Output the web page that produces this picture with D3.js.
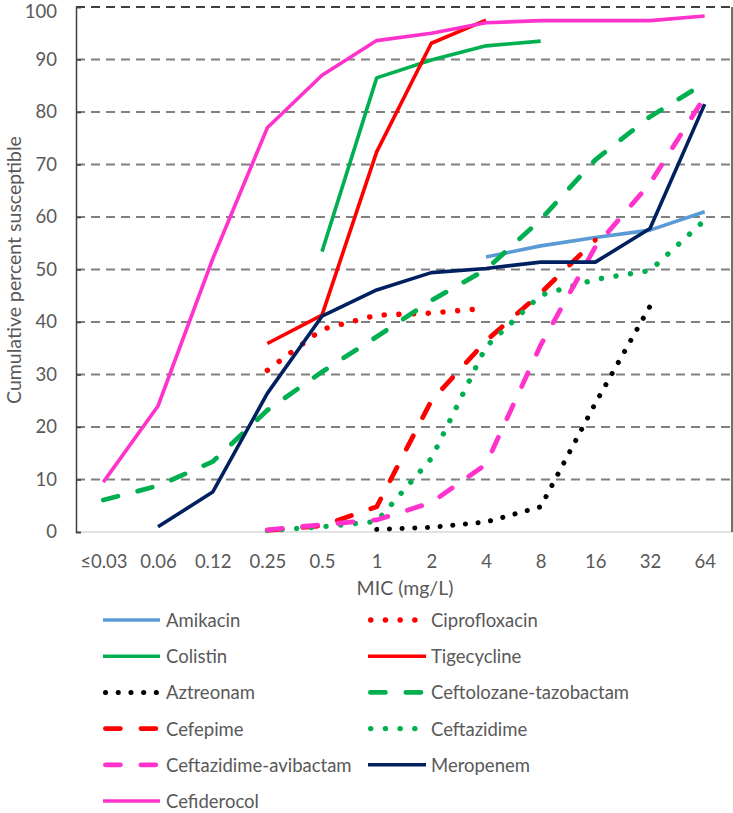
<!DOCTYPE html>
<html><head><meta charset="utf-8">
<script src="https://cdn.jsdelivr.net/npm/d3@7/dist/d3.min.js"></script>
<style>
body{margin:0;background:#fff}
text{font-family:Lato,"Open Sans",sans-serif;fill:#595959}
</style>
</head><body>
<svg id="chart" width="733" height="813"></svg>
<script>
const categories = ["≤0.03","0.06","0.12","0.25","0.5","1","2","4","8","16","32","64"];
const yTicks = [0,10,20,30,40,50,60,70,80,90,100];

const amikacin      = [null,null,null,null,null,null,null,52.4,54.5,56.1,57.5,61.0];
const ciprofloxacin = [null,null,null,30.8,38.6,41.3,41.7,42.6,null,null,null,null];
const colistin      = [null,null,null,null,53.4,86.5,89.9,92.6,93.5,null,null,null];
const tigecycline   = [null,null,null,35.9,41.3,72.4,93.1,97.5,null,null,null,null];
const aztreonam     = [null,null,null,null,null,0.5,0.9,1.9,4.8,24.5,43.0,null];
const ceftolozane   = [6.1,8.8,13.4,23.2,30.5,37.2,44.1,50.0,59.5,70.9,79.1,85.5];
const cefepime      = [null,null,null,0.3,1.2,4.8,25.0,36.4,45.5,55.6,null,null];
const ceftazidime   = [null,null,null,0.3,1.0,2.0,14.0,35.3,45.1,48.1,49.8,59.4];
const cazAvi        = [null,null,null,0.4,1.4,2.3,5.6,12.9,35.6,54.3,66.4,82.9];
const meropenem     = [null,1.0,7.6,26.4,41.1,46.1,49.4,50.2,51.4,51.4,57.8,81.5];
const cefiderocol   = [9.5,24.0,52.0,77.0,87.0,93.6,95.0,97.0,97.4,97.4,97.4,98.3];

const seriesNames = ["Amikacin","Ciprofloxacin","Colistin","Tigecycline","Aztreonam",
  "Ceftolozane-tazobactam","Cefepime","Ceftazidime","Ceftazidime-avibactam","Meropenem","Cefiderocol"];
const seriesValues = [amikacin,ciprofloxacin,colistin,tigecycline,aztreonam,
  ceftolozane,cefepime,ceftazidime,cazAvi,meropenem,cefiderocol];
const seriesColors = ["#5B9BD5","#FF0000","#00B050","#FF0000","#000000",
  "#00B050","#FF0000","#00B050","#FF33CC","#002060","#FF33CC"];
const seriesStyles = ["solid","dot","solid","solid","dotS","dash","dash","dot","dash","solid","solid"];

const svg = d3.select("#chart");
const L = 76, R = 732, T = 7, B = 532;
const FONT = "Lato, 'Open Sans', sans-serif";

const x = d3.scalePoint().domain(categories).range([L, R]).padding(0.5);
const y = d3.scaleLinear().domain([0,100]).range([B, T]);

const styleAttrs = {
  solid: {w:3.6, dash:null, cap:"butt"},
  dot:   {w:5.4, dash:"0.1 14.6", cap:"round"},
  dotS:  {w:5.0, dash:"0.1 12.6", cap:"round"},
  dash:  {w:4.8, dash:"15 20.5", cap:"round"}
};

// gridlines
svg.append("g").selectAll("line").data(yTicks.filter(t => t > 0 && t < 100)).join("line")
  .attr("x1", L).attr("x2", R).attr("y1", d => y(d)).attr("y2", d => y(d))
  .attr("stroke", "#808080").attr("stroke-width", 1.8).attr("stroke-dasharray", "9 6");
// top border (dashed dark)
svg.append("line").attr("x1", L).attr("x2", R).attr("y1", y(100)).attr("y2", y(100))
  .attr("stroke", "#404040").attr("stroke-width", 1.8).attr("stroke-dasharray", "9 6");
// bottom axis line
svg.append("line").attr("x1", L).attr("x2", R).attr("y1", B).attr("y2", B)
  .attr("stroke", "#d9d9d9").attr("stroke-width", 1.5);
// right border
svg.append("line").attr("x1", R).attr("x2", R).attr("y1", T).attr("y2", B)
  .attr("stroke", "#404040").attr("stroke-width", 1.5);

// y axis
const yAxis = d3.axisLeft(y).tickValues(yTicks).tickSize(-5).tickPadding(19);
const gy = svg.append("g").attr("transform", `translate(${L},0)`).call(yAxis);
gy.select(".domain").attr("stroke", "#404040").attr("stroke-width", 1.5);
gy.selectAll(".tick line").attr("stroke", "#404040").attr("stroke-width", 1.5);
gy.selectAll(".tick text").attr("font-size", 18.5).attr("fill", "#595959")
  .style("font-family", FONT)
  .attr("dy", d => d === 100 ? "0.55em" : "0.32em");

// x axis labels
const xAxis = d3.axisBottom(x).tickSize(0).tickPadding(23);
const gx = svg.append("g").attr("transform", `translate(0,${B})`).call(xAxis);
gx.select(".domain").remove();
gx.selectAll(".tick text").attr("font-size", 18.5).attr("fill", "#595959")
  .style("font-family", FONT);

// axis titles
svg.append("text").attr("x", 405).attr("y", 587).attr("text-anchor", "middle")
  .attr("dominant-baseline", "central").attr("font-size", 19.5).text("MIC (mg/L)");
svg.append("text").attr("transform", "translate(13,270) rotate(-90)").attr("text-anchor", "middle")
  .attr("dominant-baseline", "central").attr("font-size", 19.5).text("Cumulative percent susceptible");

// series lines
const line = d3.line().defined(d => d.v !== null).x(d => x(d.c)).y(d => y(d.v));
seriesNames.forEach((name, i) => {
  const st = styleAttrs[seriesStyles[i]];
  const data = categories.map((c, j) => ({c, v: seriesValues[i][j]}));
  svg.append("path").datum(data).attr("d", line)
    .attr("fill", "none").attr("stroke", seriesColors[i]).attr("stroke-width", st.w)
    .attr("stroke-linecap", st.cap).attr("stroke-linejoin", "round")
    .attr("stroke-dasharray", st.dash);
});

// legend
const legRowY = [620, 656.2, 692.4, 728.6, 764.8, 801];
const legColX = [[103,160,166],[368,426,431]];
seriesNames.forEach((name, i) => {
  const row = Math.floor(i / 2), col = i % 2;
  const st = styleAttrs[seriesStyles[i]];
  const cx = legColX[col], yy = legRowY[row];
  let x1 = cx[0], x2 = cx[1];
  if (st.cap === "round") { x1 += st.w/2; x2 -= st.w/2; }
  svg.append("line").attr("x1", x1).attr("x2", x2).attr("y1", yy).attr("y2", yy)
    .attr("stroke", seriesColors[i]).attr("stroke-width", st.w)
    .attr("stroke-linecap", st.cap).attr("stroke-dasharray", st.dash);
  svg.append("text").attr("x", cx[2]).attr("y", yy).attr("dominant-baseline", "central")
    .attr("font-size", 18.5).text(name);
});
</script>
</body></html>
